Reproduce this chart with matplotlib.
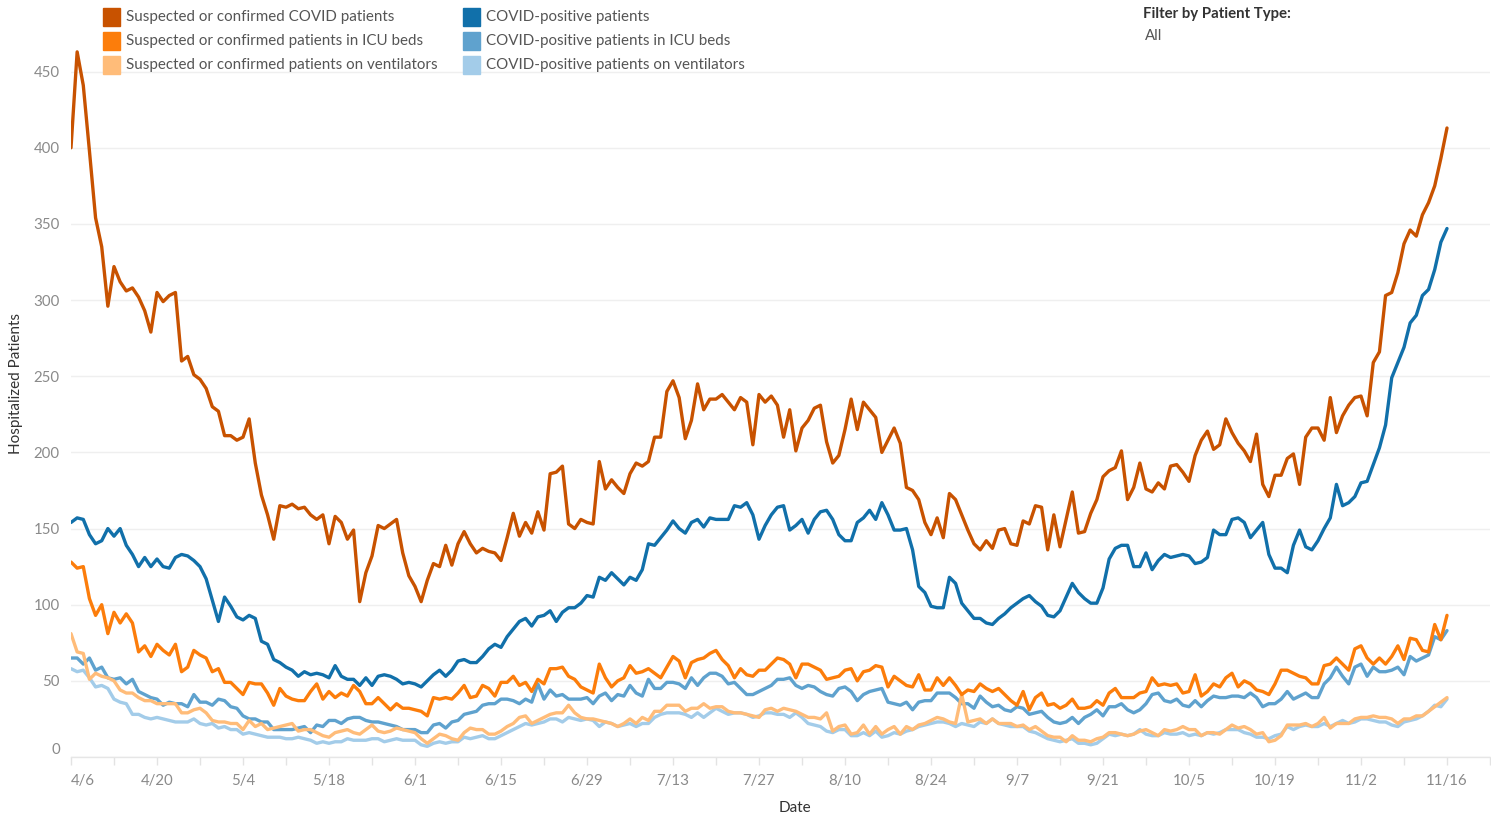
import matplotlib
matplotlib.use("Agg")
import matplotlib.pyplot as plt
import matplotlib.dates as mdates
import pandas as pd

start_date = "2020-04-06"

# one row per 14 days (4/6, 4/20, ... 11/2), last row = 11/16
suspected_total = [
    400, 463, 441, 398, 354, 335, 296, 322, 312, 306, 308, 302, 293, 279,
    305, 299, 303, 305, 260, 263, 251, 248, 242, 230, 227, 211, 211, 208,
    210, 222, 193, 172, 159, 143, 165, 164, 166, 163, 164, 159, 156, 159,
    140, 158, 154, 143, 149, 102, 121, 132, 152, 150, 153, 156, 134, 119,
    112, 102, 116, 127, 125, 139, 126, 140, 148, 140, 134, 137, 135, 134,
    129, 144, 160, 145, 154, 147, 161, 149, 186, 187, 191, 153, 150, 156,
    154, 153, 194, 176, 182, 177, 173, 186, 193, 191, 194, 210, 210, 240,
    247, 236, 209, 221, 245, 228, 235, 235, 238, 233, 228, 236, 233, 205,
    238, 233, 237, 231, 210, 228, 201, 216, 221, 229, 231, 207, 193, 198,
    215, 235, 215, 233, 228, 223, 200, 208, 216, 206, 177, 175, 169, 154,
    146, 157, 144, 173, 169, 159, 149, 140, 136, 142, 137, 149, 150, 140,
    139, 155, 153, 165, 164, 136, 159, 138, 156, 174, 147, 148, 160, 169,
    184, 188, 190, 201, 169, 177, 193, 176, 174, 180, 176, 191, 192, 187,
    181, 198, 208, 214, 202, 205, 222, 213, 206, 201, 194, 212, 179, 171,
    185, 185, 196, 199, 179, 210, 216, 216, 208, 236, 213, 224, 231, 236,
    237, 224, 259, 266, 303, 305, 318, 337, 346, 342, 356, 364, 375, 393,
    413,
]

suspected_icu = [
    128, 124, 125, 104, 93, 100, 81, 95, 88, 94, 88, 69, 73, 66,
    74, 70, 67, 74, 56, 59, 70, 67, 65, 56, 58, 49, 49, 45,
    41, 49, 48, 48, 42, 34, 45, 40, 38, 37, 37, 43, 48, 38,
    43, 39, 42, 40, 47, 43, 35, 35, 39, 35, 31, 35, 32, 32,
    31, 30, 27, 39, 38, 39, 38, 42, 47, 39, 40, 47, 45, 40,
    49, 49, 53, 47, 49, 43, 51, 48, 58, 58, 59, 53, 51, 46,
    44, 42, 61, 52, 46, 50, 52, 60, 55, 56, 58, 55, 52, 59,
    66, 63, 52, 62, 64, 65, 68, 70, 64, 60, 52, 58, 54, 53,
    57, 57, 61, 65, 64, 61, 52, 61, 61, 59, 57, 51, 52, 53,
    57, 58, 50, 56, 57, 60, 59, 46, 53, 50, 47, 46, 54, 44,
    44, 52, 47, 52, 47, 41, 44, 43, 48, 45, 43, 45, 41, 37,
    34, 43, 31, 39, 42, 34, 35, 32, 34, 38, 32, 32, 33, 37,
    34, 42, 45, 39, 39, 39, 42, 43, 52, 47, 48, 47, 48, 42,
    43, 54, 40, 43, 48, 46, 52, 55, 46, 50, 48, 44, 43, 41,
    48, 57, 57, 55, 53, 52, 48, 48, 60, 61, 65, 61, 57, 71,
    73, 65, 61, 65, 61, 66, 73, 64, 78, 77, 70, 69, 87, 77,
    93,
]

suspected_vent = [
    81, 69, 68, 51, 55, 53, 52, 50, 44, 42, 42, 39, 37, 37,
    35, 35, 35, 35, 29, 29, 31, 32, 29, 24, 23, 23, 22, 22,
    18, 24, 20, 22, 18, 19, 20, 21, 22, 17, 18, 18, 16, 14,
    13, 16, 17, 18, 16, 15, 18, 21, 17, 16, 17, 19, 18, 17,
    16, 12, 9, 12, 15, 14, 12, 11, 16, 19, 18, 18, 15, 15,
    17, 20, 22, 26, 27, 22, 24, 26, 28, 29, 29, 34, 29, 26,
    25, 25, 24, 23, 22, 20, 22, 25, 22, 26, 24, 30, 30, 34,
    34, 34, 30, 32, 32, 35, 32, 33, 33, 30, 29, 29, 28, 27,
    26, 31, 32, 30, 32, 31, 30, 28, 26, 26, 25, 29, 17, 20,
    21, 15, 16, 21, 15, 20, 15, 18, 20, 15, 20, 18, 21, 22,
    24, 26, 25, 23, 22, 41, 23, 24, 25, 22, 25, 22, 22, 22,
    20, 21, 18, 20, 17, 14, 13, 13, 10, 14, 11, 11, 10, 12,
    13, 16, 16, 15, 14, 15, 17, 18, 16, 14, 18, 17, 18, 20,
    18, 18, 14, 16, 16, 15, 18, 21, 19, 20, 18, 15, 16, 10,
    11, 14, 21, 21, 21, 22, 20, 22, 26, 19, 22, 22, 22, 25,
    26, 26, 27, 26, 26, 25, 22, 25, 25, 27, 27, 30, 33, 36,
    39,
]

positive_total = [
    154, 157, 156, 146, 140, 142, 150, 145, 150, 139, 133, 125, 131, 125,
    130, 125, 124, 131, 133, 132, 129, 125, 117, 103, 89, 105, 99, 92,
    90, 93, 91, 76, 74, 64, 62, 59, 57, 53, 56, 54, 55, 54,
    52, 60, 53, 51, 51, 47, 52, 47, 53, 54, 53, 51, 48, 49,
    48, 46, 50, 54, 57, 53, 57, 63, 64, 62, 62, 66, 71, 74,
    72, 79, 84, 89, 91, 86, 92, 93, 96, 89, 95, 98, 98, 101,
    106, 105, 118, 116, 121, 117, 113, 118, 116, 123, 140, 139, 144, 149,
    155, 150, 147, 154, 156, 151, 157, 156, 156, 156, 165, 164, 167, 159,
    143, 152, 159, 164, 165, 149, 152, 156, 147, 156, 161, 162, 156, 146,
    142, 142, 154, 157, 162, 156, 167, 159, 149, 149, 150, 136, 112, 108,
    99, 98, 98, 118, 114, 101, 96, 91, 91, 88, 87, 91, 94, 98,
    101, 104, 106, 102, 99, 93, 92, 96, 105, 114, 108, 104, 101, 101,
    111, 130, 137, 139, 139, 125, 125, 134, 123, 129, 133, 131, 132, 133,
    132, 127, 128, 131, 149, 146, 146, 156, 157, 154, 144, 149, 154, 133,
    124, 124, 121, 139, 149, 138, 136, 142, 150, 157, 179, 165, 167, 171,
    180, 181, 192, 203, 218, 249, 259, 269, 285, 290, 303, 307, 320, 338,
    347,
]

positive_icu = [
    65, 65, 61, 65, 57, 59, 52, 51, 52, 48, 51, 43, 41, 39,
    38, 34, 36, 35, 35, 33, 41, 36, 36, 34, 38, 37, 33, 32,
    27, 25, 25, 23, 23, 18, 18, 18, 18, 19, 20, 16, 21, 20,
    24, 24, 22, 25, 26, 26, 24, 23, 23, 22, 21, 20, 18, 18,
    18, 16, 16, 21, 22, 19, 23, 24, 28, 29, 30, 34, 35, 35,
    38, 38, 37, 35, 38, 36, 48, 38, 44, 40, 41, 38, 38, 38,
    39, 35, 40, 42, 37, 41, 40, 47, 42, 40, 51, 45, 45, 49,
    49, 48, 45, 52, 47, 52, 55, 55, 53, 48, 49, 45, 41, 41,
    43, 45, 47, 51, 51, 52, 47, 45, 47, 46, 43, 41, 40, 45,
    46, 43, 37, 41, 43, 44, 45, 36, 35, 34, 36, 31, 36, 37,
    37, 42, 42, 42, 39, 35, 35, 32, 40, 36, 33, 34, 31, 30,
    33, 32, 28, 29, 30, 26, 23, 22, 23, 26, 22, 26, 28, 31,
    27, 33, 33, 35, 31, 29, 31, 35, 41, 42, 37, 36, 38, 34,
    33, 37, 33, 37, 40, 39, 39, 40, 40, 39, 42, 39, 33, 35,
    35, 38, 43, 38, 40, 42, 39, 39, 48, 52, 59, 53, 48, 59,
    61, 53, 59, 56, 56, 57, 59, 54, 66, 63, 65, 67, 79, 77,
    83,
]

positive_vent = [
    58, 56, 57, 52, 46, 47, 45, 38, 36, 35, 28, 28, 26, 25,
    26, 25, 24, 23, 23, 23, 25, 22, 21, 22, 19, 20, 18, 18,
    15, 16, 15, 14, 13, 13, 13, 12, 12, 13, 12, 11, 9, 10,
    9, 10, 10, 12, 11, 11, 11, 12, 12, 10, 11, 12, 11, 11,
    11, 8, 7, 9, 10, 9, 10, 10, 13, 12, 13, 14, 12, 12,
    14, 16, 18, 20, 22, 21, 22, 23, 25, 25, 23, 26, 25, 24,
    25, 24, 20, 23, 22, 20, 21, 22, 20, 22, 22, 26, 28, 29,
    29, 29, 28, 26, 29, 26, 29, 32, 30, 28, 29, 29, 28, 26,
    27, 29, 29, 28, 28, 26, 29, 26, 22, 21, 20, 17, 16, 18,
    18, 14, 14, 16, 14, 17, 13, 14, 16, 15, 17, 18, 20, 21,
    22, 23, 23, 22, 20, 22, 21, 20, 23, 22, 25, 22, 21, 20,
    20, 20, 17, 16, 14, 12, 11, 10, 11, 12, 9, 9, 8, 9,
    12, 15, 14, 15, 14, 15, 18, 15, 14, 14, 16, 15, 15, 16,
    14, 15, 14, 16, 15, 16, 18, 18, 18, 16, 15, 13, 13, 12,
    14, 15, 20, 18, 20, 21, 20, 20, 22, 20, 22, 24, 22, 23,
    25, 25, 24, 23, 23, 21, 20, 23, 24, 25, 27, 30, 34, 33,
    38,
]

legend_labels = [
    "Suspected or confirmed COVID patients",
    "Suspected or confirmed patients in ICU beds",
    "Suspected or confirmed patients on ventilators",
    "COVID-positive patients",
    "COVID-positive patients in ICU beds",
    "COVID-positive patients on ventilators",
]
colors = ["#c85200", "#fc7d0b", "#ffbc79", "#1170aa", "#5fa2ce", "#a3cce9"]
tick_labels = ["4/6", "4/20", "5/4", "5/18", "6/1", "6/15", "6/29", "7/13",
               "7/27", "8/10", "8/24", "9/7", "9/21", "10/5", "10/19", "11/2", "11/16"]
y_ticks = [0, 50, 100, 150, 200, 250, 300, 350, 400, 450]

series = [suspected_total, suspected_icu, suspected_vent,
          positive_total, positive_icu, positive_vent]

plt.rcParams["font.family"] = ["Lato", "DejaVu Sans"]

W, H = 1491, 817
fig = plt.figure(figsize=(W / 100, H / 100), dpi=100)
ax = fig.add_axes([71 / W, (H - 757) / H, (1490 - 71) / W, 757 / H])

dates = pd.date_range(start_date, periods=len(suspected_total), freq="D")
d0 = mdates.date2num(dates[0])

# draw order: blues first, oranges on top
order = [5, 4, 3, 2, 1, 0]
for i in order:
    ax.plot(mdates.date2num(dates[:len(series[i])]), series[i],
            color=colors[i], lw=2.4, solid_joinstyle="round",
            solid_capstyle="round", zorder=3 + (5 - i) * 0.01 + (1 if i < 3 else 0))

ax.set_xlim(d0, d0 + 231)
ax.set_ylim(0, 757 / 1.523)

# grid
ax.set_yticks(y_ticks)
ax.yaxis.grid(True, color="#efefef", lw=1.0)
ax.set_axisbelow(True)
for s in ["top", "right", "left"]:
    ax.spines[s].set_visible(False)
ax.spines["bottom"].set_color("#e6e6e6")
ax.spines["bottom"].set_linewidth(1.0)

ax.tick_params(axis="y", length=0, pad=8, labelsize=10.8, labelcolor="#8a8a8a")
ylabels = ax.set_yticklabels([str(v) for v in y_ticks])
ylabels[0].set_verticalalignment("bottom")

major = [d0 + 14 * k for k in range(len(tick_labels))]
minor = [d0 + 7 * k for k in range(34)]
ax.set_xticks(major)
xl = ax.set_xticklabels(tick_labels)
xl[0].set_horizontalalignment("left")
ax.set_xticks(minor, minor=True)
ax.tick_params(axis="x", which="both", length=6, width=1, color="#e3e3e3",
               pad=6, labelsize=10.8, labelcolor="#8a8a8a")

fig.text(795 / W, 1 - 808 / H, "Date", ha="center", va="center",
         fontsize=11, color="#333333")
fig.text(16 / W, 1 - 383 / H, "Hospitalized Patients", rotation=90,
         ha="center", va="center", fontsize=11, color="#333333")

# legend (manual, two columns)
leg_rows = [17, 41, 65]
leg_cols = [(103, 126), (463, 486)]
for i, lab in enumerate(legend_labels):
    col = leg_cols[i // 3]
    yc = leg_rows[i % 3]
    fig.patches.append(plt.Rectangle((col[0] / W, 1 - (yc + 8.5) / H), 17 / W, 17 / H,
                                     transform=fig.transFigure, color=colors[i]))
    fig.text(col[1] / W, 1 - yc / H, lab, ha="left", va="center",
             fontsize=10.9, color="#555555")

fig.text(1143 / W, 1 - 14 / H, "Filter by Patient Type:", ha="left", va="center",
         fontsize=10.8, color="#333333", fontweight="bold")
fig.text(1145 / W, 1 - 36 / H, "All", ha="left", va="center",
         fontsize=10.8, color="#555555")

fig.savefig("out.png", dpi=100)
